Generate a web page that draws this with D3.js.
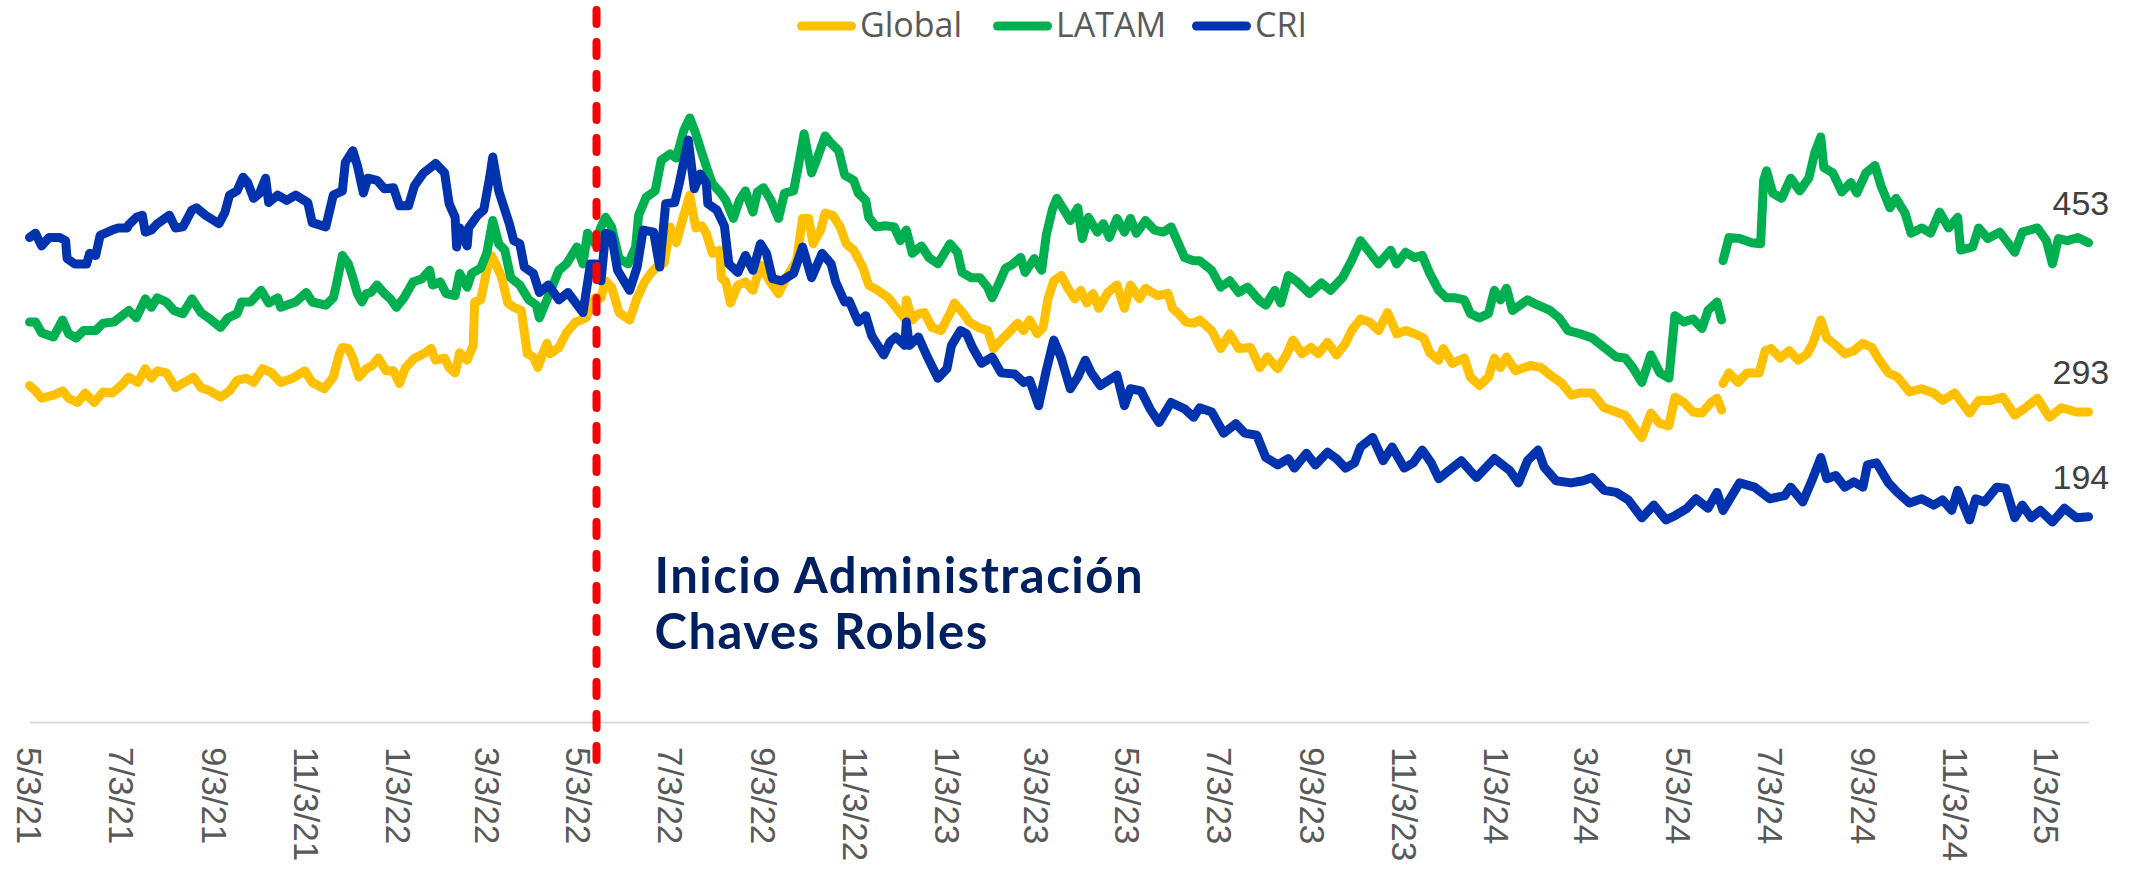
<!DOCTYPE html>
<html>
<head>
<meta charset="utf-8">
<title>Global, LATAM, CRI</title>
<script src="https://d3js.org/d3.v7.min.js"></script>
<style>
  body { margin: 0; background: #fff; }
  svg { display: block; }
</style>
</head>
<body>
<svg id="chart" width="2131" height="875"></svg>
<script>
// all series start on this day; the *Days arrays count days from it
const startDate = new Date(2021, 4, 3);

const tickLabels = ["5/3/21", "7/3/21", "9/3/21", "11/3/21", "1/3/22", "3/3/22", "5/3/22",
  "7/3/22", "9/3/22", "11/3/22", "1/3/23", "3/3/23", "5/3/23", "7/3/23", "9/3/23", "11/3/23",
  "1/3/24", "3/3/24", "5/3/24", "7/3/24", "9/3/24", "11/3/24", "1/3/25"];

const seriesNames = ["Global", "LATAM", "CRI"];
const seriesColors = ["#FFC000", "#00B050", "#0033AD"];

// Global
const globalDays = [0,4,8,16,22,26,32,37,43,49,55,61,66,72,77,81,85,91,97,103,109,114,120,127,133,138,144,149,155,161,
  167,175,183,188,196,202,206,208,212,215,219,224,228,232,237,242,246,250,256,262,267,270,276,279,283,286,291,295,296,300,
  304,307,310,314,318,322,327,331,335,338,341,344,
  346,352,357,363,370,376,380,383,387,392,399,404,409,413,417,422,426,430,435,439,443,447,450,454,459,460,463,466,471,476,
  481,486,492,498,504,510,514,518,521,526,529,534,539,543,548,554,558,564,571,576,582,583,587,591,595,600,606,612,615,621,
  625,631,637,641,646,651,657,661,665,670,674,677,681,686,690,695,699,703,707,711,717,723,728,732,738,742,750,757,760,764,
  769,774,
  778,786,792,798,804,812,818,823,830,836,840,846,852,857,863,869,875,879,885,891,897,903,909,915,921,927,931,937,940,946,
  954,958,964,970,974,978,982,988,998,1005,1011,1019,1025,1031,1039,1047,1055,1061,1066,1072,1078,1084,1090,1094,1100,1106,
  1112,1118,1122,1125,1125,1126,1130,1136,1142,1150,1154,1158,1164,1170,1176,1182,1186,1191,1195,1201,1207,1213,1219,1225,
  1229,1236,1242,1250,1258,1266,1272,1280,1290,1296,1304,1312,1320,1327,1335,1343,1351,1361,1369];
const globalValues = [318,313,306,309,313,306,302,311,302,312,311,318,326,321,334,325,332,330,316,321,326,316,313,307,313,323,325,321,334,330,
  321,325,332,321,315,326,348,354,353,344,326,334,337,344,332,332,320,335,344,348,353,342,344,335,330,349,342,356,397,399,
  427,441,433,420,396,392,389,348,345,335,347,358,
  348,354,368,378,382,401,401,417,411,387,380,401,416,424,430,434,468,453,479,498,467,469,462,443,446,420,416,396,413,416,
  408,432,417,405,422,436,476,476,452,465,481,479,468,452,446,430,413,408,401,392,381,399,380,386,387,373,370,386,396,386,
  378,373,370,353,361,368,377,370,380,367,373,399,417,422,411,400,408,396,405,391,406,413,391,413,400,410,403,405,391,386,
  378,377,
  380,370,353,367,353,354,335,345,334,348,361,348,354,348,359,347,358,370,381,378,370,387,367,370,367,363,349,342,353,339,
  344,326,318,326,344,335,345,332,337,335,328,320,309,311,311,297,293,290,280,269,292,282,280,307,302,293,
  292,302,306,295,null,320,330,321,330,330,351,353,344,351,342,348,359,380,363,356,348,351,358,354,
  344,330,326,312,315,311,304,311,292,304,304,307,290,297,306,288,297,293,293];

// LATAM
const latamDays = [0,4,8,16,22,26,31,36,44,49,56,66,71,77,81,85,91,96,102,108,114,120,127,132,138,141,147,154,159,165,
  167,177,184,188,197,202,204,208,212,215,218,221,224,227,231,236,240,244,249,255,261,266,268,273,277,283,286,291,294,300,
  304,308,312,316,320,326,332,337,339,344,
  352,357,364,368,371,376,380,383,387,392,398,403,405,410,416,420,426,430,435,439,443,447,451,454,459,463,468,472,476,481,
  484,488,493,498,502,508,511,515,520,524,529,533,538,542,548,551,556,558,563,569,575,579,583,587,593,598,604,612,617,620,
  626,632,637,640,645,649,653,659,662,668,673,676,680,683,687,692,697,700,704,710,714,718,723,728,732,736,742,748,754,759,
  763,768,774,
  778,786,792,798,804,810,818,822,828,832,837,843,851,859,865,873,879,885,891,897,905,909,915,921,926,931,937,942,948,954,
  958,964,970,974,978,982,986,996,1003,1011,1017,1023,1031,1039,1047,1055,1061,1066,1072,1078,1084,1090,1094,1100,1106,1112,
  1116,1122,1125,1125,1126,1130,1137,1145,1151,1153,1155,1159,1165,1171,1177,1183,1187,1191,1193,1199,1205,1211,1215,1221,
  1227,1231,1237,1241,1247,1251,1258,1264,1270,1276,1282,1284,1292,1296,1302,1310,1320,1325,1335,1341,1345,1349,1355,1362,1369];
const latamValues = [378,378,368,364,380,367,363,370,370,377,378,389,382,400,392,401,397,389,386,400,387,381,373,382,386,397,397,408,396,401,
  392,397,406,397,394,401,413,441,433,420,405,397,405,406,413,405,400,392,401,416,419,427,413,416,405,403,424,411,424,429,
  443,474,452,446,420,413,399,394,382,399,
  427,433,449,433,462,452,468,477,468,438,433,449,479,496,502,531,537,533,559,571,556,538,521,509,501,493,476,493,502,482,
  501,505,493,476,500,502,524,556,519,534,554,547,540,517,512,500,493,477,468,469,468,455,465,443,450,439,433,452,444,425,
  420,420,411,401,416,429,432,439,425,438,427,460,484,495,486,474,486,457,477,463,471,458,476,463,476,462,474,465,463,468,
  455,439,436,
  436,427,411,417,406,411,398,394,408,396,422,416,405,415,408,420,436,455,444,433,446,433,444,439,441,424,408,401,401,399,
  386,382,386,408,399,410,389,399,394,389,382,370,367,363,354,345,344,335,321,347,330,325,384,378,381,372,
  389,397,380,null,436,458,457,453,452,512,521,500,495,514,502,514,538,553,524,519,501,510,500,519,
  526,507,486,495,481,462,467,462,482,467,477,446,449,467,457,463,444,463,467,455,433,457,455,458,453];

// CRI
const criDays = [0,4,8,13,20,24,25,30,38,40,44,47,55,59,65,66,71,75,77,81,85,93,97,102,108,111,117,126,130,133,
  138,142,145,149,153,157,159,165,171,177,185,188,197,202,208,210,215,218,222,225,231,236,242,246,252,256,262,270,276,279,
  283,284,286,291,292,298,302,306,308,312,314,319,322,326,329,335,339,345,
  352,358,368,373,377,380,383,387,391,399,404,408,415,419,423,429,432,438,442,446,450,451,457,462,465,471,476,481,486,490,
  494,500,508,514,520,527,533,536,542,545,551,556,560,568,572,576,582,583,585,591,597,604,610,613,619,623,627,633,640,646,
  655,661,665,671,676,681,686,692,697,702,706,712,723,728,732,739,745,751,759,768,774,
  778,786,794,802,808,816,822,830,837,841,849,855,863,869,875,881,885,893,900,906,914,920,926,932,937,944,952,962,974,984,
  990,996,1003,1007,1015,1025,1033,1039,1047,1055,1063,1072,1080,1088,1094,1102,1108,1116,1122,1126,1131,1137,1147,1157,1167,1171,
  1179,1185,1191,1195,1201,1207,1213,1219,1222,1228,1236,1242,1250,1258,1266,1272,1278,1282,1290,1294,1300,1308,1314,1320,
  1325,1331,1337,1345,1353,1361,1369];
const criValues = [458,462,450,458,458,455,438,433,433,443,441,460,465,467,467,470,477,479,463,465,471,479,467,468,484,486,479,471,482,498,
  502,515,510,495,500,514,491,498,493,498,491,472,468,498,502,529,540,526,500,514,512,504,505,488,488,507,519,528,519,490,
  477,449,467,450,467,479,484,515,534,502,493,471,455,452,430,424,406,413,
  399,406,387,433,433,417,462,460,427,408,430,465,463,430,490,491,509,550,504,518,509,490,484,469,433,425,441,427,452,443,
  419,417,424,449,420,443,433,416,397,398,378,384,365,347,359,364,356,378,356,364,345,325,334,356,370,367,354,339,345,330,
  329,321,323,299,332,361,344,315,326,342,330,318,328,299,315,313,296,283,302,296,288,
  297,293,273,282,273,271,250,243,249,240,254,243,255,249,240,245,260,269,247,260,240,245,257,245,230,238,247,231,249,238,
  226,247,257,241,228,226,228,231,219,217,210,193,205,191,195,202,211,202,217,200,212,226,222,211,214,222,
  208,228,250,230,233,222,227,222,243,245,226,217,207,211,205,210,200,219,191,211,208,222,221,193,
  205,193,200,189,202,193,194];

const adminStartLabel = "5/15/22";
const annotationLines = ["Inicio Administración", "Chaves Robles"];

const parseTick = d3.timeParse("%m/%d/%y");
const dayToDate = d => d3.timeDay.offset(startDate, d);

const series = [
  { name: seriesNames[0], color: seriesColors[0], days: globalDays, values: globalValues },
  { name: seriesNames[1], color: seriesColors[1], days: latamDays, values: latamValues },
  { name: seriesNames[2], color: seriesColors[2], days: criDays, values: criValues }
];
series.forEach(s => {
  s.points = s.days.map((d, i) => ({ date: dayToDate(d), value: s.values[i] }));
});

const svg = d3.select("#chart");
const lastDay = d3.max(series, s => d3.max(s.days));

const x = d3.scaleTime()
  .domain([startDate, dayToDate(lastDay)])
  .range([29.5, 2088.5]);
const y = d3.scaleLinear().domain([0, 680]).range([722, 2.6]);

// x axis: thin grey line plus rotated date labels
const xAxis = d3.axisBottom(x)
  .tickValues(tickLabels.map(parseTick))
  .tickFormat(d3.timeFormat("%-m/%-d/%y"))
  .tickSize(0)
  .tickSizeOuter(0);

const gx = svg.append("g")
  .attr("transform", "translate(0,722)")
  .call(xAxis)
  .attr("font-family", "'Liberation Sans', Arial, sans-serif")
  .attr("font-size", 35);
gx.select(".domain").attr("stroke", "#D9D9D9").attr("stroke-width", 2);
gx.selectAll(".tick text")
  .attr("transform", "rotate(90)")
  .attr("x", 25)
  .attr("y", 0)
  .attr("dy", "0.36em")
  .attr("text-anchor", "start")
  .attr("fill", "#595959");

// lines
const line = d3.line()
  .defined(p => p.value != null)
  .x(p => x(p.date))
  .y(p => y(p.value));

svg.append("g")
  .selectAll("path")
  .data(series)
  .join("path")
    .attr("d", s => line(s.points))
    .attr("fill", "none")
    .attr("stroke", s => s.color)
    .attr("stroke-width", 9)
    .attr("stroke-linejoin", "round")
    .attr("stroke-linecap", "round");

// last value labels
svg.append("g")
  .selectAll("text")
  .data(series)
  .join("text")
    .attr("x", s => x(s.points[s.points.length - 1].date) - 36)
    .attr("y", s => y(s.points[s.points.length - 1].value) - 28)
    .attr("font-family", "'Liberation Sans', Arial, sans-serif")
    .attr("font-size", 34)
    .attr("fill", "#404040")
    .text(s => s.points[s.points.length - 1].value);

// start of administration marker
const adminX = x(parseTick(adminStartLabel));
svg.append("line")
  .attr("x1", adminX).attr("x2", adminX)
  .attr("y1", 10).attr("y2", 760)
  .attr("stroke", "#FF0000")
  .attr("stroke-width", 8)
  .attr("stroke-dasharray", "14 18")
  .attr("stroke-linecap", "round");

svg.append("g")
  .selectAll("text")
  .data(annotationLines)
  .join("text")
    .attr("x", adminX + 58)
    .attr("y", (d, i) => 593 + i * 56)
    .attr("font-family", "Lato, 'Noto Sans', sans-serif")
    .attr("font-weight", 700)
    .attr("font-size", 49)
    .attr("letter-spacing", 1.5)
    .attr("fill", "#002060")
    .text(d => d);

// legend
const legendX = [797, 993, 1192];
const legend = svg.append("g")
  .selectAll("g")
  .data(series)
  .join("g")
    .attr("transform", (s, i) => `translate(${legendX[i]},0)`);
legend.append("line")
  .attr("x1", 4.5).attr("x2", 54.5)
  .attr("y1", 26).attr("y2", 26)
  .attr("stroke", s => s.color)
  .attr("stroke-width", 9)
  .attr("stroke-linecap", "round");
legend.append("text")
  .attr("x", 63)
  .attr("y", 37)
  .attr("font-family", "'Open Sans', sans-serif")
  .attr("font-size", 34)
  .attr("fill", "#595959")
  .text(s => s.name);
</script>
</body>
</html>
